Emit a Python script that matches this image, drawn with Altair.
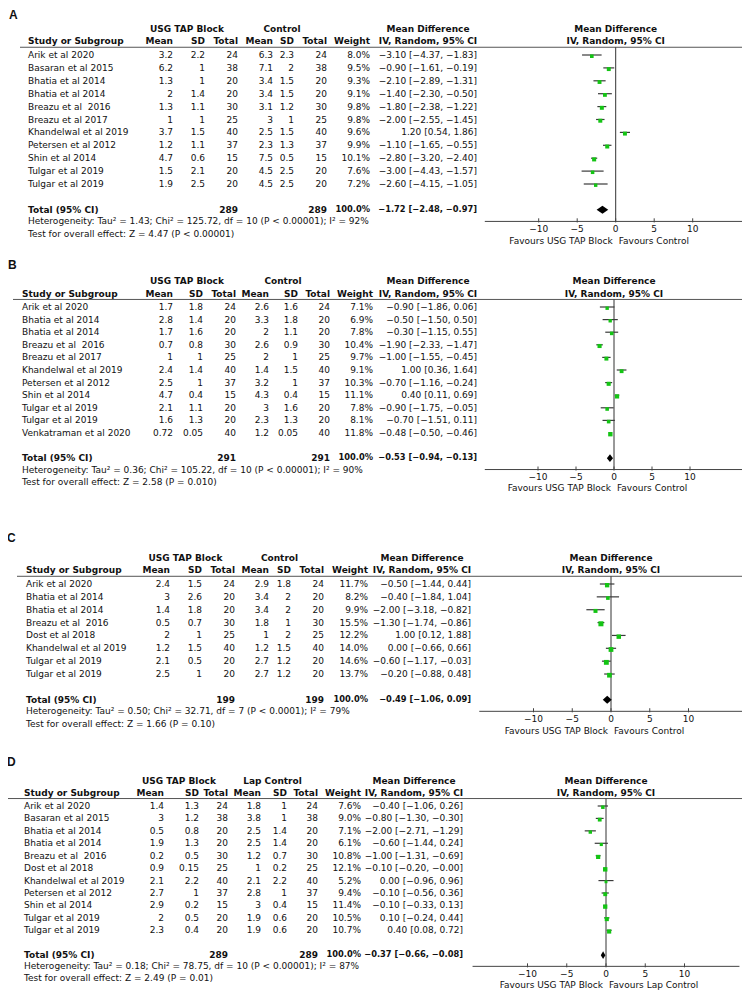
import altair as alt
import pandas as pd

# ---------------- data ----------------
col_headers = ["Mean", "SD", "Total", "Mean", "SD", "Total", "Weight"]
ticks = [-10, -5, 0, 5, 10]

# Panel A
A_study = ["Arik et al 2020", "Basaran et al 2015", "Bhatia et al 2014", "Bhatia et al 2014",
           "Breazu et al\u00a0 2016", "Breazu et al 2017", "Khandelwal et al 2019", "Petersen et al 2012",
           "Shin et al 2014", "Tulgar et al 2019", "Tulgar et al 2019"]
A_usg_mean = [3.2, 6.2, 1.3, 2, 1.3, 1, 3.7, 1.2, 4.7, 1.5, 1.9]
A_usg_sd = [2.2, 1, 1, 1.4, 1.1, 1, 1.5, 1.1, 0.6, 2.1, 2.5]
A_usg_n = [24, 38, 20, 20, 30, 25, 40, 37, 15, 20, 20]
A_ctl_mean = [6.3, 7.1, 3.4, 3.4, 3.1, 3, 2.5, 2.3, 7.5, 4.5, 4.5]
A_ctl_sd = [2.3, 2, 1.5, 1.5, 1.2, 1, 1.5, 1.3, 0.5, 2.5, 2.5]
A_ctl_n = [24, 38, 20, 20, 30, 25, 40, 37, 15, 20, 20]
A_weight = [8.0, 9.5, 9.3, 9.1, 9.8, 9.8, 9.6, 9.9, 10.1, 7.6, 7.2]
A_md = [-3.10, -0.90, -2.10, -1.40, -1.80, -2.00, 1.20, -1.10, -2.80, -3.00, -2.60]
A_lo = [-4.37, -1.61, -2.89, -2.30, -2.38, -2.55, 0.54, -1.65, -3.20, -4.43, -4.15]
A_hi = [-1.83, -0.19, -1.31, -0.50, -1.22, -1.45, 1.86, -0.55, -2.40, -1.57, -1.05]
A_total = [-1.72, -2.48, -0.97]
A_total_n = [289, 289]
A_het = "Heterogeneity: Tau² = 1.43; Chi² = 125.72, df = 10 (P < 0.00001); I² = 92%"
A_test = "Test for overall effect: Z = 4.47 (P < 0.00001)"
A_groups = ["USG TAP Block", "Control"]
A_favours = ["Favours USG TAP Block", "Favours Control"]

# Panel B
B_study = ["Arik et al 2020", "Bhatia et al 2014", "Bhatia et al 2014", "Breazu et al\u00a0 2016",
           "Breazu et al 2017", "Khandelwal et al 2019", "Petersen et al 2012", "Shin et al 2014",
           "Tulgar et al 2019", "Tulgar et al 2019", "Venkatraman et al 2020"]
B_usg_mean = [1.7, 2.8, 1.7, 0.7, 1, 2.4, 2.5, 4.7, 2.1, 1.6, 0.72]
B_usg_sd = [1.8, 1.4, 1.6, 0.8, 1, 1.4, 1, 0.4, 1.1, 1.3, 0.05]
B_usg_n = [24, 20, 20, 30, 25, 40, 37, 15, 20, 20, 40]
B_ctl_mean = [2.6, 3.3, 2, 2.6, 2, 1.4, 3.2, 4.3, 3, 2.3, 1.2]
B_ctl_sd = [1.6, 1.8, 1.1, 0.9, 1, 1.5, 1, 0.4, 1.6, 1.3, 0.05]
B_ctl_n = [24, 20, 20, 30, 25, 40, 37, 15, 20, 20, 40]
B_weight = [7.1, 6.9, 7.8, 10.4, 9.7, 9.1, 10.3, 11.1, 7.8, 8.1, 11.8]
B_md = [-0.90, -0.50, -0.30, -1.90, -1.00, 1.00, -0.70, 0.40, -0.90, -0.70, -0.48]
B_lo = [-1.86, -1.50, -1.15, -2.33, -1.55, 0.36, -1.16, 0.11, -1.75, -1.51, -0.50]
B_hi = [0.06, 0.50, 0.55, -1.47, -0.45, 1.64, -0.24, 0.69, -0.05, 0.11, -0.46]
B_total = [-0.53, -0.94, -0.13]
B_total_n = [291, 291]
B_het = "Heterogeneity: Tau² = 0.36; Chi² = 105.22, df = 10 (P < 0.00001); I² = 90%"
B_test = "Test for overall effect: Z = 2.58 (P = 0.010)"
B_groups = ["USG TAP Block", "Control"]
B_favours = ["Favours USG TAP Block", "Favours Control"]

# Panel C
C_study = ["Arik et al 2020", "Bhatia et al 2014", "Bhatia et al 2014", "Breazu et al\u00a0 2016",
           "Dost et al 2018", "Khandelwal et al 2019", "Tulgar et al 2019", "Tulgar et al 2019"]
C_usg_mean = [2.4, 3, 1.4, 0.5, 2, 1.2, 2.1, 2.5]
C_usg_sd = [1.5, 2.6, 1.8, 0.7, 1, 1.5, 0.5, 1]
C_usg_n = [24, 20, 20, 30, 25, 40, 20, 20]
C_ctl_mean = [2.9, 3.4, 3.4, 1.8, 1, 1.2, 2.7, 2.7]
C_ctl_sd = [1.8, 2, 2, 1, 2, 1.5, 1.2, 1.2]
C_ctl_n = [24, 20, 20, 30, 25, 40, 20, 20]
C_weight = [11.7, 8.2, 9.9, 15.5, 12.2, 14.0, 14.6, 13.7]
C_md = [-0.50, -0.40, -2.00, -1.30, 1.00, 0.00, -0.60, -0.20]
C_lo = [-1.44, -1.84, -3.18, -1.74, 0.12, -0.66, -1.17, -0.88]
C_hi = [0.44, 1.04, -0.82, -0.86, 1.88, 0.66, -0.03, 0.48]
C_total = [-0.49, -1.06, 0.09]
C_total_n = [199, 199]
C_het = "Heterogeneity: Tau² = 0.50; Chi² = 32.71, df = 7 (P < 0.0001); I² = 79%"
C_test = "Test for overall effect: Z = 1.66 (P = 0.10)"
C_groups = ["USG TAP Block", "Control"]
C_favours = ["Favours USG TAP Block", "Favours Control"]

# Panel D
D_study = ["Arik et al 2020", "Basaran et al 2015", "Bhatia et al 2014", "Bhatia et al 2014",
           "Breazu et al\u00a0 2016", "Dost et al 2018", "Khandelwal et al 2019", "Petersen et al 2012",
           "Shin et al 2014", "Tulgar et al 2019", "Tulgar et al 2019"]
D_usg_mean = [1.4, 3, 0.5, 1.9, 0.2, 0.9, 2.1, 2.7, 2.9, 2, 2.3]
D_usg_sd = [1.3, 1.2, 0.8, 1.3, 0.5, 0.15, 2.2, 1, 0.2, 0.5, 0.4]
D_usg_n = [24, 38, 20, 20, 30, 25, 40, 37, 15, 20, 20]
D_ctl_mean = [1.8, 3.8, 2.5, 2.5, 1.2, 1, 2.1, 2.8, 3, 1.9, 1.9]
D_ctl_sd = [1, 1, 1.4, 1.4, 0.7, 0.2, 2.2, 1, 0.4, 0.6, 0.6]
D_ctl_n = [24, 38, 20, 20, 30, 25, 40, 37, 15, 20, 20]
D_weight = [7.6, 9.0, 7.1, 6.1, 10.8, 12.1, 5.2, 9.4, 11.4, 10.5, 10.7]
D_md = [-0.40, -0.80, -2.00, -0.60, -1.00, -0.10, 0.00, -0.10, -0.10, 0.10, 0.40]
D_lo = [-1.06, -1.30, -2.71, -1.44, -1.31, -0.20, -0.96, -0.56, -0.33, -0.24, 0.08]
D_hi = [0.26, -0.30, -1.29, 0.24, -0.69, -0.00, 0.96, 0.36, 0.13, 0.44, 0.72]
D_total = [-0.37, -0.66, -0.08]
D_total_n = [289, 289]
D_het = "Heterogeneity: Tau² = 0.18; Chi² = 78.75, df = 10 (P < 0.00001); I² = 87%"
D_test = "Test for overall effect: Z = 2.49 (P = 0.01)"
D_groups = ["USG TAP Block", "Lap Control"]
D_favours = ["Favours USG TAP Block", "Favours Lap Control"]

# ---------------- layout / style ----------------
W, H = 734, 983
PX0, PX1 = 8, 8 + W
PY0, PY1 = 8, 8 + H
FONT = "DejaVu Sans"
FS = 9.0
FS_TOTAL = 8.3
TXT = "#111111"
GREEN = "#14c414"

LAYOUT = {
    "A": dict(first=55, step=12.9, letter_x=9, letter_r=-3.1, line_x0=20, study_x=28,
              cols=[173, 205, 238, 273, 294, 327, 370], ci_x=477, grp_x=[187, 282], md_x=428,
              z=615.7, u=7.7),
    "B": dict(first=307, step=12.6, letter_x=8, letter_r=-3.33, line_x0=13, study_x=22,
              cols=[173, 203, 236, 269, 298, 330, 373], ci_x=477, grp_x=[187, 283], md_x=428,
              z=614, u=7.6),
    "C": dict(first=584, step=12.86, letter_x=7, letter_r=-3.58, line_x0=17, study_x=26,
              cols=[170, 202, 235, 269, 291, 324, 368], ci_x=471, grp_x=[185.5, 279.5], md_x=422,
              z=611, u=7.75),
    "D": dict(first=806, step=12.43, letter_x=7, letter_r=-3.54, line_x0=8, study_x=24,
              cols=[164, 199, 228, 261, 287, 318, 361], ci_x=463, grp_x=[179, 272.5], md_x=414,
              z=606, u=7.85),
}
GRP_R, HEAD_R, LINE_R = -2.05, -1.05, -0.6
HET_OFF, AXIS_OFF, TEST_OFF, TICK_OFF, FAV_OFF = 0.9, 0.9, 1.85, 1.52, 2.4
AXIS_EXT = 17
DIAMOND_H = 0.31


def fmt(v):
    return f"{v:g}"


def ci_str(m, lo, hi):
    return f"{m:.2f} [{lo:.2f}, {hi:.2f}]".replace("-", "\u2212")


def txt(rows, xs, ys, align, bold=False, size=FS, font=FONT, dx=0):
    df = pd.DataFrame(rows, columns=["x", "r", "label"])
    return alt.Chart(df).mark_text(
        align=align, baseline="middle", font=font, fontSize=size,
        fontWeight="bold" if bold else "normal", color=TXT, dx=dx
    ).encode(
        x=alt.X("x:Q", scale=xs, axis=None),
        y=alt.Y("r:Q", scale=ys, axis=None),
        text=alt.Text("label:N"),
    )


def rule(rows, xs, ys, color, sw):
    df = pd.DataFrame(rows, columns=["x", "x2", "r", "r2"])
    return alt.Chart(df).mark_rule(color=color, strokeWidth=sw).encode(
        x=alt.X("x:Q", scale=xs, axis=None), x2="x2:Q",
        y=alt.Y("r:Q", scale=ys, axis=None), y2="r2:Q",
    )


def panel(letter, study, um, us, un, cm, cs, cn, w, md, lo, hi, tot, tot_n, het, test, groups, favours):
    L = LAYOUT[letter]
    n = len(study)
    R = n + 1
    xt = alt.Scale(domain=[PX0, PX1], nice=False, zero=False)
    yr = alt.Scale(domain=[(PY1 - L["first"]) / L["step"], (PY0 - L["first"]) / L["step"]],
                   nice=False, zero=False)
    xf = alt.Scale(domain=[(PX0 - L["z"]) / L["u"], (PX1 - L["z"]) / L["u"]], nice=False, zero=False)
    cols = L["cols"]
    layers = []

    # panel letter
    layers.append(txt([(L["letter_x"], L["letter_r"], letter)], xt, yr, "left", bold=True,
                      size=12, font="Liberation Sans"))
    # left normal text
    rows = [(L["study_x"], i, s) for i, s in enumerate(study)]
    rows += [(L["study_x"], R + HET_OFF, het), (L["study_x"], R + TEST_OFF, test)]
    layers.append(txt(rows, xt, yr, "left"))
    # right normal text (table values)
    rows = []
    for i in range(n):
        vals = [fmt(um[i]), fmt(us[i]), str(un[i]), fmt(cm[i]), fmt(cs[i]), str(cn[i]), f"{w[i]:.1f}%"]
        rows += [(cols[k], i, v) for k, v in enumerate(vals)]
        rows.append((L["ci_x"], i, ci_str(md[i], lo[i], hi[i])))
    layers.append(txt(rows, xt, yr, "right"))
    # left bold
    layers.append(txt([(L["study_x"], HEAD_R, "Study or Subgroup"), (L["study_x"], R, "Total (95% CI)")],
                      xt, yr, "left", bold=True))
    # right bold
    rows = [(cols[k], HEAD_R, h) for k, h in enumerate(col_headers)]
    rows += [(cols[2], R, str(tot_n[0])), (cols[5], R, str(tot_n[1]))]
    layers.append(txt(rows, xt, yr, "right", bold=True))
    # total row weight and pooled estimate (slightly tighter)
    layers.append(txt([(cols[6], R, "100.0%"), (L["ci_x"], R, ci_str(*tot))], xt, yr, "right",
                      bold=True, size=FS_TOTAL))
    # center bold (table)
    rows = [(L["grp_x"][0], GRP_R, groups[0]), (L["grp_x"][1], GRP_R, groups[1]),
            (L["md_x"], GRP_R, "Mean Difference"), (L["md_x"], HEAD_R, "IV, Random, 95% CI")]
    layers.append(txt(rows, xt, yr, "center", bold=True))
    # forest header
    layers.append(txt([(0, GRP_R, "Mean Difference"), (0, HEAD_R, "IV, Random, 95% CI")],
                      xf, yr, "center", bold=True))
    # header line
    layers.append(rule([(L["line_x0"], PX1, LINE_R, LINE_R)], xt, yr, "#555555", 1))
    # zero line, axis line, ticks
    layers.append(rule([(0, 0, LINE_R, R + AXIS_OFF)], xf, yr, "#333333", 1))
    layers.append(rule([(-AXIS_EXT, AXIS_EXT, R + AXIS_OFF, R + AXIS_OFF)], xf, yr, "#444444", 1))
    layers.append(rule([(t, t, R + AXIS_OFF - 0.24, R + AXIS_OFF + 0.08) for t in ticks], xf, yr,
                       "#444444", 1))
    layers.append(txt([(t, R + TICK_OFF, str(t).replace("-", "\u2212")) for t in ticks], xf, yr, "center"))
    layers.append(txt([(0, R + FAV_OFF, favours[0])], xf, yr, "right", dx=-3))
    layers.append(txt([(0, R + FAV_OFF, favours[1])], xf, yr, "left", dx=3))
    # CI lines
    layers.append(rule([(lo[i], hi[i], i, i) for i in range(n)], xf, yr, "#3a3a3a", 1.2))
    # squares
    sq = pd.DataFrame({"md": md, "r": list(range(n)), "w": w})
    layers.append(alt.Chart(sq).mark_square(color=GREEN, opacity=1, yOffset=1.2).encode(
        x=alt.X("md:Q", scale=xf, axis=None),
        y=alt.Y("r:Q", scale=yr, axis=None),
        size=alt.Size("w:Q", scale=alt.Scale(domain=[0, 16], range=[0, 26]), legend=None),
    ))
    # diamond
    dm = pd.DataFrame({"x": [tot[1], tot[0], tot[2]],
                       "r": [R, R - DIAMOND_H, R], "r2": [R, R + DIAMOND_H, R]})
    layers.append(alt.Chart(dm).mark_area(color="black", opacity=1).encode(
        x=alt.X("x:Q", scale=xf, axis=None),
        y=alt.Y("r:Q", scale=yr, axis=None), y2="r2:Q",
    ))
    return layers


all_layers = []
all_layers += panel("A", A_study, A_usg_mean, A_usg_sd, A_usg_n, A_ctl_mean, A_ctl_sd, A_ctl_n, A_weight,
                    A_md, A_lo, A_hi, A_total, A_total_n, A_het, A_test, A_groups, A_favours)
all_layers += panel("B", B_study, B_usg_mean, B_usg_sd, B_usg_n, B_ctl_mean, B_ctl_sd, B_ctl_n, B_weight,
                    B_md, B_lo, B_hi, B_total, B_total_n, B_het, B_test, B_groups, B_favours)
all_layers += panel("C", C_study, C_usg_mean, C_usg_sd, C_usg_n, C_ctl_mean, C_ctl_sd, C_ctl_n, C_weight,
                    C_md, C_lo, C_hi, C_total, C_total_n, C_het, C_test, C_groups, C_favours)
all_layers += panel("D", D_study, D_usg_mean, D_usg_sd, D_usg_n, D_ctl_mean, D_ctl_sd, D_ctl_n, D_weight,
                    D_md, D_lo, D_hi, D_total, D_total_n, D_het, D_test, D_groups, D_favours)

chart = alt.layer(*all_layers).resolve_scale(x="independent", y="independent").properties(
    width=W, height=H, padding=0, autosize=alt.AutoSizeParams(type="none"),
    background="white",
).configure_view(stroke=None)

chart.save("out.html", embed_options={"renderer": "svg", "actions": False})
